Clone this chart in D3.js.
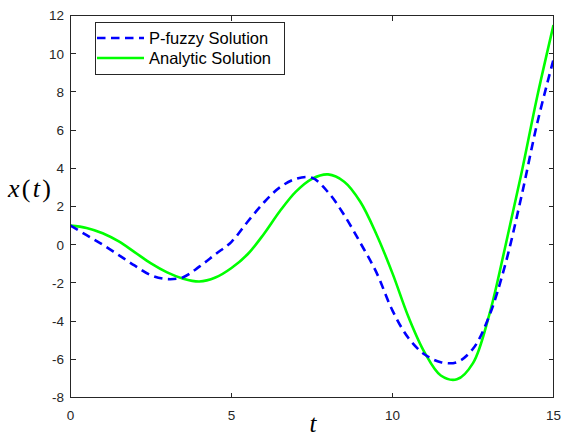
<!DOCTYPE html>
<html>
<head>
<meta charset="utf-8">
<script src="https://cdn.jsdelivr.net/npm/d3@7"></script>
<style>
  html, body { margin: 0; padding: 0; background: #fff; }
  svg { display: block; }
</style>
</head>
<body>
<svg id="chart" width="561" height="437"></svg>
<script>
// ---- data ----
const tValues = [0,0.5,1,1.5,2,2.5,3,3.5,4,4.5,5,5.5,6,6.5,7,7.5,8,8.5,9,9.5,10,10.5,11,11.5,12,12.5,13,13.5,14,14.5,15];
const pFuzzy = [1.0,0.5,0.0,-0.55,-1.1,-1.6,-1.8,-1.7,-1.15,-0.5,0.15,1.2,2.2,3.0,3.45,3.5,2.75,1.55,0.1,-1.45,-3.45,-4.9,-5.75,-6.15,-6.15,-5.45,-3.75,-1.05,2.5,6.4,9.7];
const analytic = [1.0,0.88,0.6,0.17,-0.4,-0.98,-1.45,-1.78,-1.93,-1.72,-1.22,-0.5,0.55,1.75,2.78,3.45,3.68,3.3,2.25,0.55,-1.5,-3.8,-5.65,-6.85,-7.05,-6.2,-3.7,-0.12,3.7,7.8,11.5];
const xTicks = [0,5,10,15];
const yTicks = [-8,-6,-4,-2,0,2,4,6,8,10,12];
const seriesNames = ["P-fuzzy Solution","Analytic Solution"];

// ---- layout ----
const svg = d3.select("#chart");
const L = 70.5, R = 553.5, T = 15.5, B = 397.5;
const x = d3.scaleLinear().domain([0,15]).range([L,R]);
const y = d3.scaleLinear().domain([-8,12]).range([B,T]);
const axisColor = "#262626";
const tickFont = "Liberation Sans, Arial, Helvetica, sans-serif";

// plot lines (clipped)
svg.append("clipPath").attr("id","clip").append("rect")
  .attr("x",L).attr("y",T).attr("width",R-L).attr("height",B-T);

const line = (vals) => d3.line()
  .x((d,i)=>x(tValues[i])).y(d=>y(d))
  .curve(d3.curveCatmullRom.alpha(0.5))(vals);

const g = svg.append("g").attr("clip-path","url(#clip)");
g.append("path").attr("d", line(analytic))
  .attr("fill","none").attr("stroke","#00ff00").attr("stroke-width",2.6);
g.append("path").attr("d", line(pFuzzy))
  .attr("fill","none").attr("stroke","#0000ff").attr("stroke-width",2.6)
  .attr("stroke-dasharray","8.5,5.5");

// axes box with inward ticks on all sides
const ax = svg.append("g").attr("stroke",axisColor).attr("stroke-width",1).attr("fill","none").attr("shape-rendering","crispEdges");
ax.append("rect").attr("x",L).attr("y",T).attr("width",R-L).attr("height",B-T);
xTicks.forEach(t=>{
  ax.append("line").attr("x1",x(t)).attr("x2",x(t)).attr("y1",B).attr("y2",B-5);
  ax.append("line").attr("x1",x(t)).attr("x2",x(t)).attr("y1",T).attr("y2",T+5);
});
yTicks.forEach(v=>{
  ax.append("line").attr("x1",L).attr("x2",L+5).attr("y1",y(v)).attr("y2",y(v));
  ax.append("line").attr("x1",R).attr("x2",R-5).attr("y1",y(v)).attr("y2",y(v));
});

// tick labels
svg.append("g").selectAll("text").data(xTicks).join("text")
  .attr("x",d=>x(d)).attr("y",420)
  .attr("text-anchor","middle").attr("font-family",tickFont).attr("font-size",13.5)
  .attr("fill",axisColor).text(d=>d);
svg.append("g").selectAll("text").data(yTicks).join("text")
  .attr("x",64).attr("y",d=>y(d)+4.8)
  .attr("text-anchor","end").attr("font-family",tickFont).attr("font-size",13.5)
  .attr("fill",axisColor).text(d=>d);

// axis labels
svg.append("text").attr("x",313).attr("y",432)
  .attr("text-anchor","middle").attr("font-family","Liberation Serif, Times New Roman, serif")
  .attr("font-size",25).attr("font-style","italic").attr("fill","#000").text("t");
const yl = svg.append("text").attr("x",8).attr("y",197)
  .attr("font-family","Liberation Serif, Times New Roman, serif")
  .attr("font-size",26).attr("fill","#000")
  .attr("textLength",43).attr("lengthAdjust","spacing");
yl.append("tspan").attr("font-style","italic").text("x");
yl.append("tspan").text("(");
yl.append("tspan").attr("font-style","italic").text("t");
yl.append("tspan").text(")");

// legend
const lg = svg.append("g");
lg.append("rect").attr("x",95.5).attr("y",22.5).attr("width",189).attr("height",52)
  .attr("fill","#fff").attr("stroke",axisColor).attr("stroke-width",1).attr("shape-rendering","crispEdges");
const rows = [38, 58];
lg.append("line").attr("x1",97).attr("x2",144).attr("y1",rows[0]).attr("y2",rows[0])
  .attr("stroke","#0000ff").attr("stroke-width",2.6).attr("stroke-dasharray","8.5,5.5");
lg.append("line").attr("x1",97).attr("x2",144).attr("y1",rows[1]).attr("y2",rows[1])
  .attr("stroke","#00ff00").attr("stroke-width",2.6);
seriesNames.forEach((n,i)=>{
  lg.append("text").attr("x",149).attr("y",rows[i]+6)
    .attr("font-family",tickFont).attr("font-size",16.5).attr("fill","#000").text(n);
});
</script>
</body>
</html>
